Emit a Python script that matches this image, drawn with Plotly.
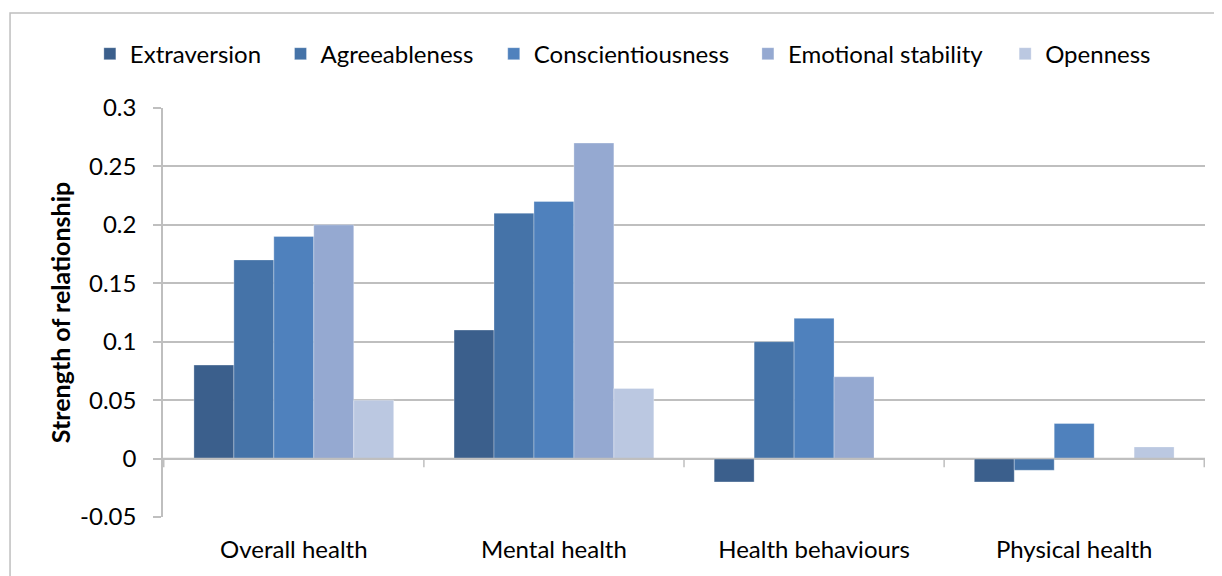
import plotly.graph_objects as go

categories = ["Overall health", "Mental health", "Health behaviours", "Physical health"]
extraversion = [0.08, 0.11, -0.02, -0.02]
agreeableness = [0.17, 0.21, 0.10, -0.01]
conscientiousness = [0.19, 0.22, 0.12, 0.03]
emotional_stability = [0.20, 0.27, 0.07, 0.0]
openness = [0.05, 0.06, 0.0, 0.01]

y_ticks = [-0.05, 0, 0.05, 0.1, 0.15, 0.2, 0.25, 0.3]
y_labels = ["-0.05", "0", "0.05", "0.1", "0.15", "0.2", "0.25", "0.3"]

series = [
    ("Extraversion", extraversion, "#3B5F8C"),
    ("Agreeableness", agreeableness, "#4573A8"),
    ("Conscientiousness", conscientiousness, "#4F81BD"),
    ("Emotional stability", emotional_stability, "#95A9D1"),
    ("Openness", openness, "#BBC8E1"),
]
# left edge of each legend entry (fraction of figure width)
legend_x = [0.0670, 0.2230, 0.3975, 0.6055, 0.8160]

font = "Lato, Open Sans, sans-serif"

fig = go.Figure()
legends = {}
for i, (name, vals, col) in enumerate(series):
    key = "legend" if i == 0 else f"legend{i + 1}"
    fig.add_trace(go.Bar(
        x=categories, y=vals, name=name, legend=key,
        marker=dict(color=col, line=dict(color="rgba(255,255,255,0.3)", width=1)),
    ))
    legends[key] = dict(orientation="h", xref="container", yref="container",
                        x=legend_x[i], xanchor="left", y=0.92, yanchor="middle",
                        bgcolor="rgba(0,0,0,0)", font=dict(size=24), itemwidth=30)

# tick marks on the zero line between categories
shapes = []
for i in range(len(categories) + 1):
    shapes.append(dict(type="line", xref="x", yref="y",
                       x0=i - 0.5, x1=i - 0.5, y0=0, y1=-0.0075,
                       line=dict(color="#BFBFBF", width=1.5)))
shapes.append(dict(type="line", xref="paper", yref="y", x0=0, x1=1, y0=0, y1=0,
                   line=dict(color="#BFBFBF", width=1.5)))
# outer chart border
shapes.append(dict(type="rect", xref="paper", yref="paper",
                   x0=-0.1468, x1=1.0134, y0=-0.25, y1=1.2323,
                   line=dict(color="#BFBFBF", width=1.5)))

fig.update_layout(
    width=1222, height=576,
    margin=dict(l=155, r=25, t=100, b=67, autoexpand=False),
    paper_bgcolor="white", plot_bgcolor="white",
    barmode="group", bargap=0.232, bargroupgap=0,
    font=dict(family=font, size=24, color="black"),
    showlegend=True,
    xaxis=dict(showgrid=False, showline=False, ticks="outside", ticklen=11,
               tickcolor="rgba(0,0,0,0)", zeroline=False),
    yaxis=dict(range=[-0.05, 0.3], tickvals=y_ticks, ticktext=y_labels,
               showgrid=True, gridcolor="#BFBFBF", gridwidth=1.5,
               showline=True, linecolor="#BFBFBF", linewidth=1.5,
               ticks="outside", ticklen=8, tickcolor="#BFBFBF", tickwidth=1.5,
               ticklabelstandoff=12, zeroline=False,
               title=dict(text="<b>Strength of relationship</b>", font=dict(size=25), standoff=2)),
    shapes=shapes,
    **legends,
)

fig.write_html("out.html")
